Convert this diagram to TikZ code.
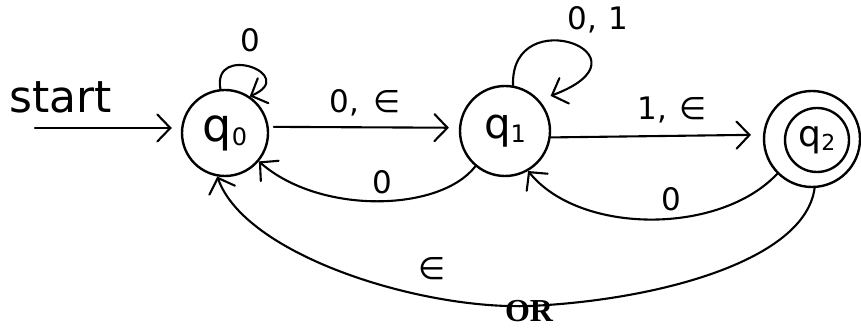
\documentclass[tikz,border=0pt]{standalone}
\usepackage{fontspec}
\setmainfont{DejaVu Sans}
\newfontfamily\orfont{Liberation Serif}
\usetikzlibrary{arrows.meta}
% state name: a large q with a lowered index
\newcommand{\statename}[3]{{\fontsize{#2}{#2}\selectfont q}\raisebox{-4pt}{\fontsize{#3}{#3}\selectfont #1}}
\begin{document}
\begin{tikzpicture}[x=1pt,y=-1pt,
  state/.style={circle,draw,line width=2.4pt,inner sep=0pt},
  edge/.style={line width=2.1pt,line cap=round,line join=round,
    -{Straight Barb[length=13pt,width=27pt,line cap=round]}},
  lbl/.style={font=\fontsize{31}{31}\selectfont,inner sep=0pt}]
\useasboundingbox (0,0) rectangle (861,328);

% states
\node[state,minimum size=86pt] (q0) at (225,133) {\statename{0}{46}{24}};
\node[state,minimum size=90pt] (q1) at (505,131) {\statename{1}{42}{24}};
\node[state,minimum size=96pt] (q2) at (812,139) {};
\node[state,minimum size=64pt] (q2in) at (817,140) {\statename{2}{36}{22}};

% start arrow
\node[font=\fontsize{44}{44}\selectfont,inner sep=0pt,anchor=base] (st) at (61,113) {start};
\coordinate (s0) at (35,128);
\draw[edge,shorten >=9pt] (s0) -- (q0.west |- s0);

% straight transitions
\draw[edge,shorten <=5pt,shorten >=10pt] (q0.8) -- (q1.176);
\draw[edge,shorten >=12pt] (q1.-8) -- (q2.175);
\node[lbl] (l01) at (365,103) {0,\hspace{14pt}∈};
\node[lbl] (l12) at (672,110) {1,\hspace{12pt}∈};

% self loops
\draw[edge] (q0.96) .. controls (212,42) and (300,75) .. (q0.56);
\node[lbl] (l00) at (250,40) {0};
\draw[edge,shorten >=12pt] (q1.80) .. controls (510,0) and (660,55) .. (q1.42);
\node[lbl] (l11) at (598,20) {0,\hspace{12pt}1};

% backward transitions
\draw[edge] (q1.230) .. controls (440,212) and (320,215) .. (q0.-40);
\node[lbl] (l10) at (382,182) {0};
\draw[edge] (q2.225) .. controls (720,235) and (580,235) .. (q1.-60);
\node[lbl] (l21) at (671,199) {0};
\coordinate (low) at (530,306);
\draw[edge] (q2.-87) .. controls (805,260) and (660,300) .. (low)
  .. controls (420,310) and (245,255) .. (q0.-100);
\node[lbl] (l20) at (432,269) {∈};
\node[font=\orfont\bfseries\fontsize{32}{32}\selectfont,inner sep=0pt] (or) at (529,311) {OR};
\end{tikzpicture}
\end{document}
